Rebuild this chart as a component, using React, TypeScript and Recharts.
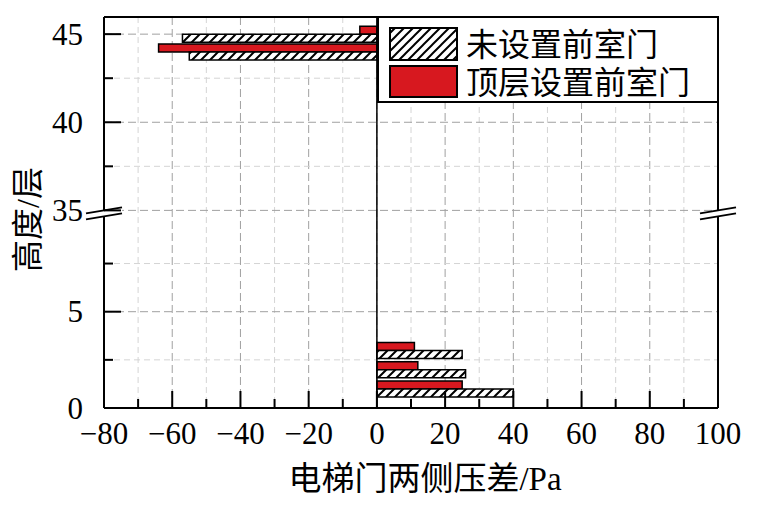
import React from 'react';
import { BarChart, Bar, XAxis, YAxis, CartesianGrid, ReferenceLine } from 'recharts';

// ---- data ----
const floors = [1, 2, 3, 44, 45];
const noVestibule = [40, 26, 25, -55, -57]; // 未设置前室门
const topVestibule = [25, 12, 11, -64, -5]; // 顶层设置前室门
const seriesNames = ['未设置前室门', '顶层设置前室门'];
const xMajorTicks = [-80, -60, -40, -20, 0, 20, 40, 60, 80, 100];
const xMinorTicks = [-70, -50, -30, -10, 10, 30, 50, 70, 90];
const yMajorTicks = [0, 5, 35, 40, 45];
const yMinorTicks = [2.5, 7.5, 37.5, 42.5];
const xLabel = '电梯门两侧压差/Pa';
const yLabel = '高度/层';

// ---- broken axis mapping ----
const BREAK_FROM = 35;
const BREAK_AT = 10.26;
const UPPER_RATIO = 0.915;
const Y_TOP = 20.3;
const toDisplay = (v: number) => (v < BREAK_FROM - 10 ? v : BREAK_AT + (v - BREAK_FROM) * UPPER_RATIO);

const data = floors.map((f, i) => ({
  floor: f,
  pos: toDisplay(f),
  none: noVestibule[i],
  top: topVestibule[i],
}));

const yMajorDisp = yMajorTicks.map(toDisplay);
const yMinorDisp = yMinorTicks.map(toDisplay);
const yAllDisp = [...yMajorDisp, ...yMinorDisp].sort((a, b) => a - b);
const xAllTicks = [...xMajorTicks, ...xMinorTicks].sort((a, b) => a - b);

const FONT = "'Liberation Serif','Noto Sans CJK SC',serif";
const RED = '#d7181f';
const MAJOR_GRID = '#a0a0a0';
const MINOR_GRID = '#d4d4d4';

const fmt = (v: number) => (v < 0 ? '\u2212' + Math.abs(v) : String(v));

const XTick = (props: any) => {
  const { x, y, payload } = props;
  const v = payload.value;
  const major = xMajorTicks.includes(v);
  return (
    <g>
      <line x1={x} x2={x} y1={y} y2={y - (major ? 17 : 9)} stroke="#000" strokeWidth={2} />
      {major && (
        <text x={x} y={y + 36} textAnchor="middle" fontFamily={FONT} fontSize={31} fill="#000">
          {fmt(v)}
        </text>
      )}
    </g>
  );
};

const YTick = (props: any) => {
  const { x, y, payload } = props;
  const d = payload.value;
  const idx = yMajorDisp.findIndex((m) => Math.abs(m - d) < 1e-6);
  const major = idx >= 0;
  return (
    <g>
      <line x1={x} x2={x + (major ? 17 : 9)} y1={y} y2={y} stroke="#000" strokeWidth={2} />
      {major && (
        <text x={x - 21} y={y + 10.5} textAnchor="end" fontFamily={FONT} fontSize={31} fill="#000">
          {fmt(yMajorTicks[idx])}
        </text>
      )}
    </g>
  );
};

const XLabel = (props: any) => {
  const vb = props.viewBox;
  return (
    <text x={vb.x + vb.width / 2 + 14} y={vb.y + 82} textAnchor="middle" fontFamily={FONT} fontSize={33} fill="#000">
      {xLabel}
    </text>
  );
};

const YLabel = (props: any) => {
  const vb = props.viewBox;
  const cx = vb.x + 28;
  const cy = vb.y + vb.height / 2 + 7;
  return (
    <text
      x={cx}
      y={cy}
      transform={`rotate(-90 ${cx} ${cy})`}
      textAnchor="middle"
      dominantBaseline="central"
      fontFamily={FONT}
      fontSize={32}
      fill="#000"
    >
      {yLabel}
    </text>
  );
};

const BreakShape = (p: any) => {
  const { x1, x2, y1 } = p;
  const cy = y1 + 3;
  const mark = (cx: number) => (
    <g key={cx}>
      <polygon points={`${cx - 18},${cy} ${cx + 18},${cy - 6} ${cx + 18},${cy} ${cx - 18},${cy + 6}`} fill="#fff" />
      <line x1={cx - 18} y1={cy} x2={cx + 18} y2={cy - 6} stroke="#000" strokeWidth={2} />
      <line x1={cx - 18} y1={cy + 6} x2={cx + 18} y2={cy} stroke="#000" strokeWidth={2} />
    </g>
  );
  return (
    <g>
      {mark(x1)}
      {mark(x2)}
    </g>
  );
};

export default function App() {
  return (
    <div style={{ position: 'absolute', left: 0, top: 0, width: 763, height: 507, background: '#fff' }}>
      <svg width={0} height={0} style={{ position: 'absolute' }}>
        <defs>
          <pattern id="hatch" patternUnits="userSpaceOnUse" width={9} height={9}>
            <rect width={9} height={9} fill="#fff" />
            <path d="M-2,2 L2,-2 M0,9 L9,0 M7,11 L11,7" stroke="#000" strokeWidth={2} />
          </pattern>
        </defs>
      </svg>
      <BarChart
        width={763}
        height={507}
        data={data}
        layout="vertical"
        margin={{ top: 17, right: 45, bottom: 0, left: 0 }}
        barGap={0}
      >
        <XAxis xAxisId="mx" type="number" domain={[-80, 100]} ticks={xMinorTicks} hide allowDataOverflow />
        <XAxis xAxisId="gx" type="number" domain={[-80, 100]} ticks={xMajorTicks} hide allowDataOverflow />
        <CartesianGrid xAxisId="mx" horizontal={false} stroke={MINOR_GRID} strokeDasharray="6 4" strokeWidth={1} />
        <CartesianGrid xAxisId="gx" horizontal={false} stroke={MAJOR_GRID} strokeDasharray="8 4" strokeWidth={1} />
        {yMinorDisp.map((d) => (
          <ReferenceLine key={'mn' + d} y={d} stroke={MINOR_GRID} strokeDasharray="6 4" strokeWidth={1} zIndex={-100} />
        ))}
        {yMajorDisp.slice(1).map((d) => (
          <ReferenceLine key={'mj' + d} y={d} stroke={MAJOR_GRID} strokeDasharray="8 4" strokeWidth={1} zIndex={-100} />
        ))}
        <XAxis
          type="number"
          domain={[-80, 100]}
          ticks={xAllTicks}
          interval={0}
          tickSize={0}
          tickMargin={0}
          tickLine={false}
          tick={<XTick />}
          axisLine={{ stroke: '#000', strokeWidth: 2 }}
          height={99}
          allowDataOverflow
          label={<XLabel />}
        />
        <YAxis
          type="number"
          dataKey="pos"
          domain={[0, Y_TOP]}
          ticks={yAllDisp}
          interval={0}
          tickSize={0}
          tickMargin={0}
          tickLine={false}
          tick={<YTick />}
          axisLine={{ stroke: '#000', strokeWidth: 2 }}
          width={104}
          reversed
          allowDataOverflow
          label={<YLabel />}
        />
        <Bar dataKey="top" name={seriesNames[1]} fill={RED} stroke="#000" strokeWidth={1.5} barSize={8} isAnimationActive={false} />
        <Bar dataKey="none" name={seriesNames[0]} fill="url(#hatch)" stroke="#000" strokeWidth={1.5} barSize={8} isAnimationActive={false} />
        <ReferenceLine x={0} stroke="#000" strokeWidth={1.5} />
        <ReferenceLine x={100} stroke="#000" strokeWidth={2} />
        <ReferenceLine y={Y_TOP} stroke="#000" strokeWidth={2} />
        <ReferenceLine y={BREAK_AT} shape={<BreakShape />} zIndex={1500} />
      </BarChart>
      <svg width={763} height={507} style={{ position: 'absolute', left: 0, top: 0, pointerEvents: 'none' }}>
        <rect x={378} y={17} width={340} height={85} fill="#fff" stroke="#000" strokeWidth={2} />
        <rect x={390} y={28} width={67} height={32} fill="url(#hatch)" stroke="#000" strokeWidth={2} />
        <rect x={390} y={66} width={67} height={31} fill={RED} stroke="#000" strokeWidth={2} />
        <text x={466} y={45} dominantBaseline="central" fontFamily={FONT} fontSize={32} fill="#000">
          {seriesNames[0]}
        </text>
        <text x={466} y={83} dominantBaseline="central" fontFamily={FONT} fontSize={32} fill="#000">
          {seriesNames[1]}
        </text>
      </svg>
    </div>
  );
}
